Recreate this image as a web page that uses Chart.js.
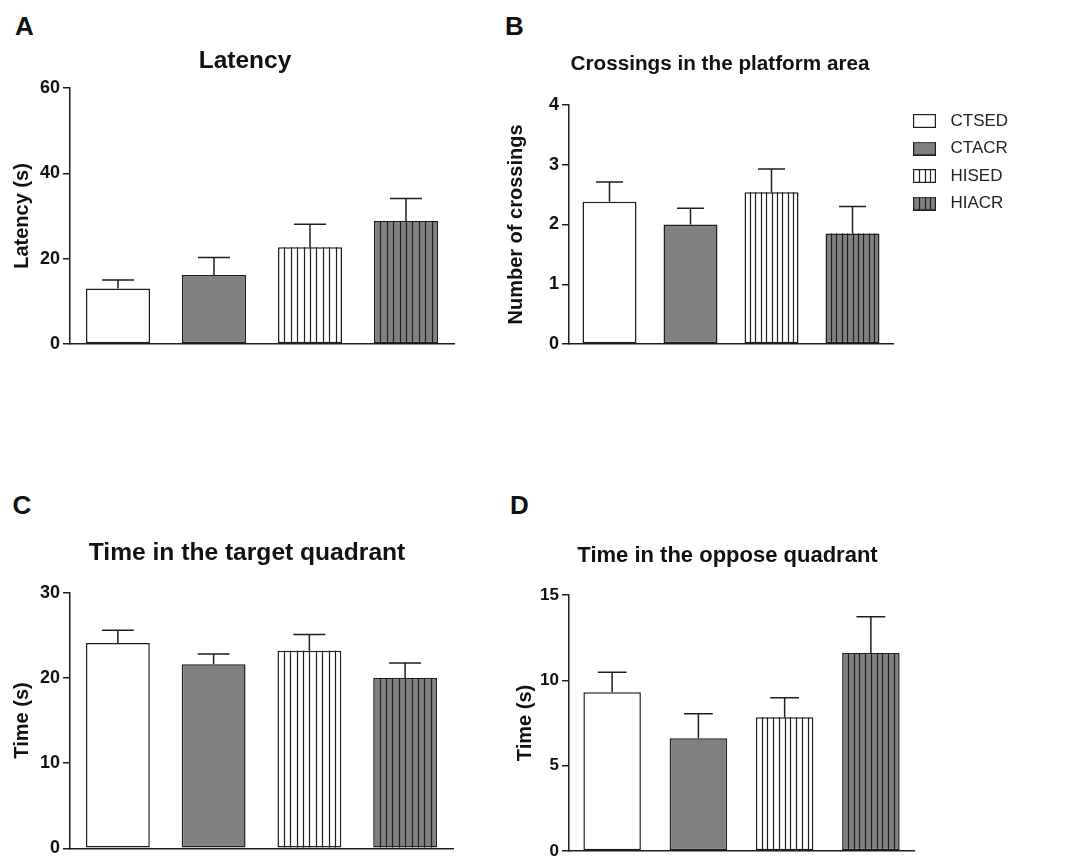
<!DOCTYPE html>
<html><head><meta charset="utf-8">
<script src="https://cdn.jsdelivr.net/npm/chart.js@4"></script>
<style>
html,body{margin:0;padding:0;background:#fff;width:1073px;height:858px;overflow:hidden;position:relative;font-family:'Liberation Sans',Arial,Helvetica,sans-serif}
canvas{position:absolute}
.lab{position:absolute;font-weight:bold;font-size:26px;line-height:1;color:#111}
</style></head><body>
<div class="lab" style="left:15px;top:12.5px">A</div>
<div class="lab" style="left:505px;top:12.5px">B</div>
<div class="lab" style="left:12.5px;top:491.5px">C</div>
<div class="lab" style="left:510px;top:491.5px">D</div>
<canvas id="cA" width="490" height="380" style="left:0;top:0"></canvas>
<canvas id="cB" width="583" height="380" style="left:490px;top:0"></canvas>
<canvas id="cC" width="490" height="400" style="left:0;top:480px"></canvas>
<canvas id="cD" width="475" height="400" style="left:490px;top:480px"></canvas>
<script>
// ---- data ----
const categories = ['CTSED', 'CTACR', 'HISED', 'HIACR'];
const latencyMean = [13.0, 16.2, 22.7, 28.8];
const latencySem = [2.0, 4.1, 5.35, 5.3];
const latencyTicks = [0, 20, 40, 60];
const crossingsMean = [2.38, 2.0, 2.54, 1.85];
const crossingsSem = [0.33, 0.27, 0.39, 0.45];
const crossingsTicks = [0, 1, 2, 3, 4];
const targetMean = [24.1, 21.6, 23.2, 20.0];
const targetSem = [1.5, 1.2, 1.9, 1.75];
const targetTicks = [0, 10, 20, 30];
const opposeMean = [9.3, 6.6, 7.83, 11.6];
const opposeSem = [1.17, 1.44, 1.15, 2.13];
const opposeTicks = [0, 5, 10, 15];

// ---- style ----
const FONT = "'Liberation Sans', Arial, Helvetica, sans-serif";
const INK = '#1e1e1e';
const GREY = '#808080';
const FILLS = ['#ffffff', GREY, '#ffffff', GREY];
const STRIPED = [false, false, true, true];
const SWATCH_W = 23, SWATCH_GAP = 6;

function makeSwatch(fill, striped) {
  const c = document.createElement('canvas');
  c.width = SWATCH_W + SWATCH_GAP; c.height = 14;
  const g = c.getContext('2d');
  g.fillStyle = fill; g.fillRect(0, 0, SWATCH_W, 14);
  g.strokeStyle = INK; g.lineWidth = 1.2;
  if (striped) {
    for (let k = 1; k < 4; k++) {
      const x = Math.round(k * SWATCH_W / 4) + 0.5;
      g.beginPath(); g.moveTo(x, 0); g.lineTo(x, 14); g.stroke();
    }
  }
  g.strokeRect(0.6, 0.6, SWATCH_W - 1.2, 12.8);
  return c;
}
const swatches = categories.map((c, i) => makeSwatch(FILLS[i], STRIPED[i]));

const barExtras = {
  id: 'barExtras',
  afterDatasetsDraw(chart, args, opts) {
    const ctx = chart.ctx;
    const meta = chart.getDatasetMeta(0);
    const ys = chart.scales.y;
    const vals = chart.data.datasets[0].data;
    ctx.save();
    ctx.strokeStyle = INK;
    meta.data.forEach((bar, i) => {
      const p = bar.getProps(['x', 'y', 'base', 'width'], true);
      if (opts.striped[i]) {
        ctx.lineWidth = 1.2;
        const left = p.x - p.width / 2;
        for (let k = 1; k < 10; k++) {
          const sx = Math.round(left + k * p.width / 10) + 0.5;
          ctx.beginPath(); ctx.moveTo(sx, p.y); ctx.lineTo(sx, p.base); ctx.stroke();
        }
      }
      const yTop = ys.getPixelForValue(vals[i] + opts.errors[i]);
      ctx.lineWidth = 1.5;
      ctx.beginPath();
      ctx.moveTo(p.x, p.y); ctx.lineTo(p.x, yTop);
      ctx.moveTo(p.x - p.width / 4, yTop); ctx.lineTo(p.x + p.width / 4, yTop);
      ctx.stroke();
    });
    ctx.restore();
  }
};

const placeBlocks = {
  id: 'placeBlocks',
  afterLayout(chart, args, opts) {
    if (opts.titleDx && chart.titleBlock) {
      chart.titleBlock.left += opts.titleDx;
      chart.titleBlock.right += opts.titleDx;
    }
    if (opts.legend && chart.legend) {
      const lg = chart.legend;
      lg.left = chart.chartArea.right + opts.legend.dx;
      lg.top = chart.chartArea.top + opts.legend.dy;
      lg.right = chart.width; lg.bottom = chart.height;
      lg.width = lg.right - lg.left; lg.height = lg.bottom - lg.top;
    }
  }
};

function makeChart(id, cfg) {
  const legendOpts = cfg.legend ? {
    display: true, position: 'chartArea', align: 'start',
    labels: {
      usePointStyle: true, pointStyleWidth: SWATCH_W + SWATCH_GAP, padding: 10.5,
      font: { family: FONT, size: 17 }, color: '#222',
      generateLabels: () => categories.map((c, i) => ({
        text: c, pointStyle: swatches[i], fillStyle: FILLS[i], strokeStyle: INK,
        lineWidth: 0, hidden: false, index: i, datasetIndex: 0, fontColor: '#222'
      }))
    }
  } : { display: false };
  return new Chart(document.getElementById(id), {
    type: 'bar',
    data: {
      labels: categories,
      datasets: [{
        data: cfg.values, backgroundColor: FILLS, borderColor: INK, borderWidth: 1.5,
        borderSkipped: false, barPercentage: 2 / 3, categoryPercentage: 1
      }]
    },
    options: {
      responsive: false, animation: false, devicePixelRatio: 1,
      layout: { padding: { top: 0, left: 0, right: cfg.padRight, bottom: 0 } },
      plugins: {
        title: {
          display: true, text: cfg.title, color: '#111',
          font: { family: FONT, size: cfg.titleSize, weight: 'bold' },
          padding: { top: cfg.titleY - cfg.titleSize * 0.6, bottom: cfg.chartTop - cfg.titleY - cfg.titleSize * 0.6 }
        },
        legend: legendOpts,
        tooltip: { enabled: false },
        barExtras: { errors: cfg.errors, striped: STRIPED },
        placeBlocks: { titleDx: cfg.titleDx || 0, legend: cfg.legendPos || null }
      },
      scales: {
        x: {
          grid: { display: false },
          border: { display: true, color: INK, width: 1.5 },
          ticks: { display: false },
          afterFit(s) { s.height = cfg.xHeight; }
        },
        y: {
          min: cfg.ticks[0], max: cfg.ticks[cfg.ticks.length - 1],
          afterBuildTicks(s) { s.ticks = cfg.ticks.map(v => ({ value: v })); },
          grid: { display: true, drawOnChartArea: false, drawTicks: true, tickLength: 7, color: INK, lineWidth: 1.5 },
          border: { display: true, color: INK, width: 1.5 },
          ticks: { font: { family: FONT, size: cfg.tickSize, weight: 'bold' }, color: '#111', padding: 3 },
          title: {
            display: true, text: cfg.yTitle, color: '#111',
            font: { family: FONT, size: 20, weight: 'bold' },
            padding: { top: cfg.yTitlePad, bottom: 0 }
          },
          afterFit(s) { s.width = cfg.yWidth; }
        }
      }
    },
    plugins: [barExtras, placeBlocks]
  });
}

makeChart('cA', { values: latencyMean, errors: latencySem, ticks: latencyTicks, title: 'Latency', yTitle: 'Latency (s)',
  titleSize: 24.5, titleY: 61, chartTop: 88, padRight: 36, yWidth: 70, xHeight: 36, tickSize: 18, yTitlePad: 10, titleDx: 18 });
makeChart('cB', { values: crossingsMean, errors: crossingsSem, ticks: crossingsTicks, title: 'Crossings in the platform area', yTitle: 'Number of crossings',
  titleSize: 20.7, titleY: 64, chartTop: 105, padRight: 180, yWidth: 79, xHeight: 36, tickSize: 18, yTitlePad: 14.7,
  titleDx: 28.5, legend: true, legendPos: { dx: 9.5, dy: -3 } });
makeChart('cC', { values: targetMean, errors: targetSem, ticks: targetTicks, title: 'Time in the target quadrant', yTitle: 'Time (s)',
  titleSize: 24.6, titleY: 73.5, chartTop: 112.7, padRight: 37, yWidth: 70, xHeight: 31.7, tickSize: 18, yTitlePad: 10, titleDx: 20.5 });
makeChart('cD', { values: opposeMean, errors: opposeSem, ticks: opposeTicks, title: 'Time in the oppose quadrant', yTitle: 'Time (s)',
  titleSize: 22, titleY: 76, chartTop: 115, padRight: 51, yWidth: 79, xHeight: 29, tickSize: 17, yTitlePad: 23.7, titleDx: 25.5 });
</script>
</body></html>
